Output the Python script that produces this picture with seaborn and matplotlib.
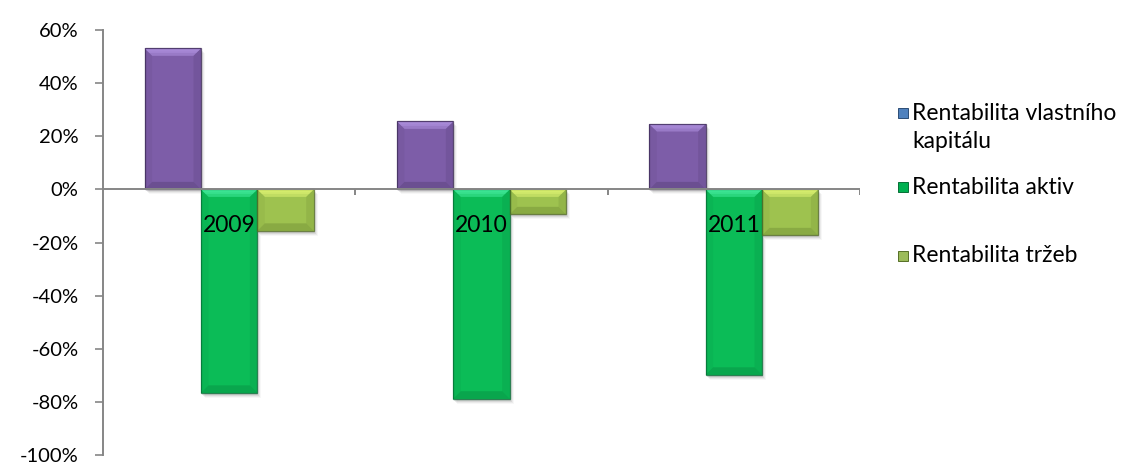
import numpy as np
import pandas as pd
import matplotlib
matplotlib.use("Agg")
import matplotlib.pyplot as plt
from matplotlib.patches import Polygon, Rectangle
from matplotlib.ticker import PercentFormatter, FixedLocator
import seaborn as sns

# Profitability ratios by year
years = ["2009", "2010", "2011"]
series_names = ["Rentabilita vlastního\nkapitálu", "Rentabilita aktiv", "Rentabilita tržeb"]
roe = [0.531, 0.256, 0.246]     # Rentabilita vlastního kapitálu
roa = [-0.766, -0.788, -0.698]  # Rentabilita aktiv
ros = [-0.156, -0.094, -0.173]  # Rentabilita tržeb
y_ticks = [-1.0, -0.8, -0.6, -0.4, -0.2, 0.0, 0.2, 0.4, 0.6]

df = pd.DataFrame({
    "rok": years * 3,
    "ukazatel": np.repeat(series_names, len(years)),
    "hodnota": roe + roa + ros,
})

bar_colors = ["#7D5DA8", "#0BBC57", "#9EC24F"]
light_colors = ["#AC8EDC", "#40E898", "#DAF070"]
dark_colors = ["#3E2C58", "#066F36", "#566F26"]
legend_colors = ["#4F81BD", "#00B050", "#9BBB59"]
legend_edges = ["#2C4D75", "#066F36", "#566F26"]

sns.set_theme(style="white")
plt.rcParams["font.family"] = ["Lato", "DejaVu Sans"]
plt.rcParams["axes.unicode_minus"] = False

fig = plt.figure(figsize=(11.33, 4.65), dpi=100)
ax = fig.add_axes([103 / 1133, 1 - 455 / 465, (860 - 103) / 1133, (455 - 30) / 465])

sns.barplot(data=df, x="rok", y="hodnota", hue="ukazatel", hue_order=series_names,
            palette=bar_colors, width=0.67, gap=0, legend=False, ax=ax,
            edgecolor="none", linewidth=0, saturation=1, errorbar=None)

ax.set_xlim(-0.5, len(years) - 0.5)
ax.set_ylim(-1.0, 0.6)
fig.canvas.draw()

# Bevel and shadow for each bar, sized in pixels then converted to data units
ax_bbox = ax.get_window_extent()
px_x = (ax.get_xlim()[1] - ax.get_xlim()[0]) / ax_bbox.width
px_y = (ax.get_ylim()[1] - ax.get_ylim()[0]) / ax_bbox.height
bev_x, bev_y = 7.5 * px_x, 7.5 * px_y


def trapezoid(pts, color, alpha, z):
    return Polygon(pts, closed=True, facecolor=color, alpha=alpha, edgecolor="none", zorder=z)


bars = list(ax.patches)
n = len(years)
for i, bar in enumerate(bars):
    s = i // n
    x0 = bar.get_x()
    w = bar.get_width()
    y_a = bar.get_y()
    y_b = y_a + bar.get_height()
    lo, hi = min(y_a, y_b), max(y_a, y_b)
    x1 = x0 + w
    # soft drop shadow
    for k, a in enumerate([0.09, 0.07, 0.05, 0.03]):
        ax.add_patch(Rectangle((x0 + (1 + k) * px_x, lo - (2 + k) * px_y), w, hi - lo,
                               facecolor="black", alpha=a, edgecolor="none", zorder=0.5))
    bar.set_zorder(1)
    # lit top face, graded from the outer edge inward
    for frac, a in [(1.0, 0.6), (0.6, 0.6), (0.3, 0.75)]:
        bx, by = bev_x * frac, bev_y * frac
        ax.add_patch(trapezoid([(x0, hi), (x1, hi), (x1 - bx, hi - by), (x0 + bx, hi - by)],
                               light_colors[s], a, 1.1))
    ax.add_patch(trapezoid([(x0, lo), (x1, lo), (x1 - bev_x, lo + bev_y), (x0 + bev_x, lo + bev_y)],
                           dark_colors[s], 0.28, 1.1))
    ax.add_patch(trapezoid([(x1, lo), (x1, hi), (x1 - bev_x, hi - bev_y), (x1 - bev_x, lo + bev_y)],
                           dark_colors[s], 0.15, 1.1))
    ax.add_patch(trapezoid([(x0, lo), (x0, hi), (x0 + bev_x, hi - bev_y), (x0 + bev_x, lo + bev_y)],
                           dark_colors[s], 0.08, 1.1))
    ax.add_patch(Rectangle((x0, lo), w, hi - lo, facecolor="none",
                           edgecolor=dark_colors[s], linewidth=0.9, alpha=0.8, zorder=1.2))

# Axes styling
axis_gray = "#868686"
for side in ("top", "right", "bottom"):
    ax.spines[side].set_visible(False)
ax.spines["left"].set_color(axis_gray)
ax.spines["left"].set_linewidth(1.4)
ax.axhline(0, color=axis_gray, linewidth=1.4, zorder=1.3)

ax.yaxis.set_major_locator(FixedLocator(y_ticks))
ax.yaxis.set_major_formatter(PercentFormatter(1.0, decimals=0))
ax.tick_params(axis="y", which="major", direction="out", length=5.5, width=1.2,
               color=axis_gray, pad=12, labelsize=14.5, labelcolor="black", left=True)

# Category boundary ticks on the zero line
ax.set_xticks([])
ax.set_xlabel("")
ax.set_ylabel("")
for b in np.arange(0.5, len(years), 1.0):
    ax.plot([b, b], [0, -6 * px_y], color=axis_gray, linewidth=1.4, zorder=1.3,
            solid_capstyle="butt")

# Year labels sit just under the zero line, over the bars
for i, yr in enumerate(years):
    ax.text(i, -36 * px_y, yr, ha="center", va="center", fontsize=16.5, color="black", zorder=5)

# Legend
legend_x_marker = 903 / 1133
legend_x_text = 912 / 1133
legend_rows = [113, 187, 256]
for s, name in enumerate(series_names):
    yc = 1 - legend_rows[s] / 465
    fig.patches.append(Rectangle((legend_x_marker - 5 / 1133, yc - 5 / 465), 10 / 1133, 10 / 465,
                                 transform=fig.transFigure, facecolor=legend_colors[s],
                                 edgecolor=legend_edges[s], linewidth=0.7))
    for j, line in enumerate(name.split("\n")):
        fig.text(legend_x_text, 1 - (legend_rows[s] + 28 * j) / 465, line, ha="left",
                 va="center", fontsize=16.5, color="black")

fig.savefig("out.png", dpi=100)
